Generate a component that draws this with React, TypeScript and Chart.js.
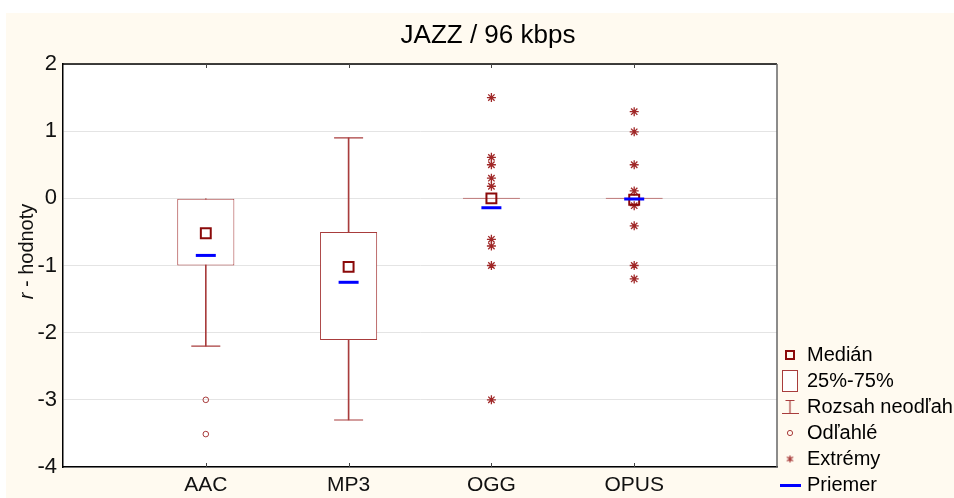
import React, { useEffect, useRef } from 'react';
import { Chart, registerables } from 'chart.js';

Chart.register(...registerables);

const FAMILY = "'Liberation Sans Narrow', 'Liberation Sans', Arial, sans-serif";

// ---- data ----
const chartTitle = 'JAZZ / 96 kbps';
const categories = ['AAC', 'MP3', 'OGG', 'OPUS'];
const yTickValues = [-4, -3, -2, -1, 0, 1, 2];
const q1 = [-1.0, -2.11, 0, 0];
const q3 = [0, -0.5, 0, 0];
const medians = [-0.52, -1.02, 0, -0.02];
const means = [-0.85, -1.25, -0.14, -0.01];
const whiskerLow = [-2.2, -3.3, 0, 0];
const whiskerHigh = [0, 0.9, 0, 0];
const outliers: number[][] = [[-3.0, -3.51], [], [], []];
const extremes: number[][] = [
  [],
  [],
  [1.5, 0.61, 0.5, 0.3, 0.18, -0.61, -0.71, -1.0, -3.0],
  [1.29, 0.99, 0.5, 0.11, -0.11, -0.41, -1.0, -1.2],
];
const legendLabels = ['Medián', '25%-75%', 'Rozsah neodľah.', 'Odľahlé', 'Extrémy', 'Priemer'];
const yTitleItalic = 'r';
const yTitleRest = ' - hodnoty';

// ---- styles ----
const RED = '#A83C3C';
const DARKRED = '#8B0A0A';
const STAR = '#A02828';
const BLUE = '#0000FF';

function marker(w: number, h: number, draw: (c: CanvasRenderingContext2D) => void) {
  const c = document.createElement('canvas');
  c.width = w;
  c.height = h;
  const ctx = c.getContext('2d')!;
  draw(ctx);
  return c;
}

export default function App() {
  const ref = useRef<HTMLCanvasElement>(null);

  useEffect(() => {
    const canvas = ref.current!;
    const axisLabels = ['', ...categories, ''];
    const pad = (arr: any[]) => [null, ...arr, null];

    const whiskerData = pad(categories.map((_, i) => (whiskerHigh[i] > whiskerLow[i] ? [whiskerLow[i], whiskerHigh[i]] : null)));
    const boxData = pad(categories.map((_, i) => [q1[i], q3[i]]));
    const capData: { x: string; y: number }[] = [];
    categories.forEach((c, i) => {
      if (whiskerLow[i] < q1[i]) capData.push({ x: c, y: whiskerLow[i] });
      if (whiskerHigh[i] > q3[i]) capData.push({ x: c, y: whiskerHigh[i] });
    });
    const medianData = categories.map((c, i) => ({ x: c, y: medians[i] }));
    const meanData = categories.map((c, i) => ({ x: c, y: means[i] }));
    const outlierData = categories.flatMap((c, i) => outliers[i].map((v) => ({ x: c, y: v })));
    const extremeData = categories.flatMap((c, i) => extremes[i].map((v) => ({ x: c, y: v })));

    // legend markers
    const mMedian = marker(10, 10, (c) => {
      c.strokeStyle = DARKRED;
      c.lineWidth = 2;
      c.strokeRect(1, 1, 8, 8);
    });
    const mBox = marker(16, 22, (c) => {
      c.fillStyle = '#fff';
      c.fillRect(0, 0, 16, 22);
      c.strokeStyle = RED;
      c.lineWidth = 1;
      c.strokeRect(0.5, 0.5, 15, 21);
    });
    const mWhisker = marker(17, 14, (c) => {
      c.strokeStyle = RED;
      c.lineWidth = 1.2;
      c.beginPath();
      c.moveTo(4, 0.5);
      c.lineTo(13, 0.5);
      c.moveTo(8.5, 0.5);
      c.lineTo(8.5, 13.5);
      c.moveTo(0, 13.5);
      c.lineTo(17, 13.5);
      c.stroke();
    });
    const mCircle = marker(8, 8, (c) => {
      c.strokeStyle = RED;
      c.lineWidth = 1;
      c.beginPath();
      c.arc(4, 4, 2.6, 0, Math.PI * 2);
      c.stroke();
    });
    const mStar = marker(9, 9, (c) => {
      c.strokeStyle = STAR;
      c.lineWidth = 1.2;
      c.beginPath();
      c.moveTo(4.5, 1);
      c.lineTo(4.5, 8);
      c.moveTo(1.5, 2.5);
      c.lineTo(7.5, 6.5);
      c.moveTo(7.5, 2.5);
      c.lineTo(1.5, 6.5);
      c.stroke();
    });
    const mMean = marker(21, 3, (c) => {
      c.fillStyle = BLUE;
      c.fillRect(0, 0, 21, 3);
    });
    const legendMarkers = [mMedian, mBox, mWhisker, mCircle, mStar, mMean];

    // legend sizing so plot area right edge lands where the reference has it
    const LEG_FONT = 20;
    const LEG_PAD = 6;
    const LEG_BOX = 14;
    const mctx = document.createElement('canvas').getContext('2d')!;
    mctx.font = `${LEG_FONT}px ${FAMILY}`;
    const maxText = Math.max(...legendLabels.map((t) => mctx.measureText(t).width));
    const legendNeed = LEG_PAD + LEG_BOX + LEG_FONT / 2 + maxText + 10;
    const legendSpace = 948 - 771;
    const padRight = Math.max(0, legendSpace - legendNeed);

    const framePlugin = {
      id: 'frame',
      beforeDraw(chart: any) {
        const { ctx, chartArea: a } = chart;
        ctx.save();
        ctx.fillStyle = '#ffffff';
        ctx.fillRect(a.left, a.top, a.right - a.left, a.bottom - a.top);
        ctx.restore();
      },
      afterDraw(chart: any) {
        const { ctx, chartArea: a, scales } = chart;
        const xs = scales.x;
        ctx.save();
        ctx.lineWidth = 1.5;
        ctx.strokeStyle = '#000';
        ctx.beginPath();
        ctx.moveTo(a.left, a.top);
        ctx.lineTo(a.right, a.top);
        ctx.stroke();
        ctx.strokeStyle = '#666';
        ctx.beginPath();
        ctx.moveTo(a.right, a.top);
        ctx.lineTo(a.right, a.bottom);
        ctx.stroke();
        // inner category ticks
        ctx.strokeStyle = '#444';
        ctx.lineWidth = 1;
        ctx.beginPath();
        categories.forEach((c) => {
          const px = Math.round(xs.getPixelForValue(axisLabels.indexOf(c))) + 0.5;
          ctx.moveTo(px, a.bottom);
          ctx.lineTo(px, a.bottom - 4);
          ctx.moveTo(px, a.top);
          ctx.lineTo(px, a.top + 4);
        });
        ctx.stroke();
        // y axis title with italic r
        const fI = `italic 20px ${FAMILY}`;
        const fN = `20px ${FAMILY}`;
        ctx.translate(a.left - 36, (a.top + a.bottom) / 2 - 14);
        ctx.rotate(-Math.PI / 2);
        ctx.font = fI;
        const w1 = ctx.measureText(yTitleItalic).width;
        ctx.font = fN;
        const w2 = ctx.measureText(yTitleRest).width;
        const x0 = -(w1 + w2) / 2;
        ctx.fillStyle = '#111';
        ctx.textBaseline = 'middle';
        ctx.textAlign = 'left';
        ctx.font = fI;
        ctx.fillText(yTitleItalic, x0, 0);
        ctx.font = fN;
        ctx.fillText(yTitleRest, x0 + w1, 0);
        ctx.restore();
      },
    };

    const chart = new Chart(canvas, {
      type: 'bar',
      data: {
        labels: axisLabels,
        datasets: [
          {
            type: 'bar',
            label: 'whisker',
            data: whiskerData as any,
            backgroundColor: RED,
            borderWidth: 0,
            barThickness: 1,
            grouped: false,
            order: 10,
          } as any,
          {
            type: 'bar',
            label: 'box',
            data: boxData as any,
            backgroundColor: '#ffffff',
            borderColor: RED,
            borderWidth: 1,
            borderSkipped: false,
            barPercentage: 0.4,
            categoryPercentage: 1,
            minBarLength: 1,
            grouped: false,
            order: 9,
          } as any,
          {
            type: 'line',
            label: 'caps',
            data: capData as any,
            showLine: false,
            pointStyle: 'line',
            pointRadius: 14.5,
            pointBorderColor: RED,
            pointBorderWidth: 1.2,
            order: 8,
          } as any,
          {
            type: 'line',
            label: 'outliers',
            data: outlierData as any,
            showLine: false,
            pointStyle: 'circle',
            pointRadius: 2.8,
            pointBorderColor: RED,
            pointBackgroundColor: 'rgba(255,255,255,0)',
            pointBorderWidth: 1,
            order: 4,
          } as any,
          {
            type: 'line',
            label: 'extremes',
            data: extremeData as any,
            showLine: false,
            pointStyle: 'star',
            pointRadius: 4.5,
            pointBorderColor: STAR,
            pointBorderWidth: 1.3,
            order: 3,
          } as any,
          {
            type: 'line',
            label: 'median',
            data: medianData as any,
            showLine: false,
            pointStyle: 'rect',
            pointRadius: 7,
            pointBorderColor: DARKRED,
            pointBackgroundColor: 'rgba(255,255,255,0)',
            pointBorderWidth: 2,
            order: 2,
          } as any,
          {
            type: 'line',
            label: 'mean',
            data: meanData as any,
            showLine: false,
            pointStyle: 'line',
            pointRadius: 10,
            pointBorderColor: BLUE,
            pointBorderWidth: 3,
            order: 1,
          } as any,
        ],
      },
      options: {
        responsive: false,
        animation: false,
        events: [],
        layout: { padding: { left: 16, right: padRight, top: 0, bottom: -3 } },
        scales: {
          x: {
            type: 'category',
            offset: false,
            grid: { display: false, drawTicks: false },
            border: { display: true, color: '#000', width: 1.5 },
            ticks: {
              autoSkip: false,
              maxRotation: 0,
              padding: 6,
              color: '#111',
              font: { family: FAMILY, size: 21 },
            },
            afterFit: (s: any) => {
              s.height = 34;
            },
          },
          y: {
            type: 'linear',
            min: yTickValues[0],
            max: yTickValues[yTickValues.length - 1],
            afterBuildTicks: (s: any) => {
              s.ticks = yTickValues.map((v) => ({ value: v }));
            },
            grid: { color: '#E4E4E4', lineWidth: 1, drawTicks: false },
            border: { display: true, color: '#000', width: 1.5 },
            ticks: {
              padding: 6,
              color: '#111',
              font: { family: FAMILY, size: 22 },
            },
            afterFit: (s: any) => {
              s.width = 41;
            },
          },
        },
        plugins: {
          title: {
            display: true,
            text: chartTitle,
            color: '#000',
            font: { family: FAMILY, size: 26, weight: 'normal' },
            padding: { top: 7, bottom: 12.8 },
          },
          legend: {
            display: true,
            position: 'right',
            align: 'end',
            maxWidth: legendSpace,
            onClick: () => {},
            labels: {
              usePointStyle: true,
              boxWidth: LEG_BOX,
              padding: LEG_PAD,
              color: '#000',
              font: { family: FAMILY, size: LEG_FONT },
              generateLabels: () =>
                legendLabels.map((t, i) => ({
                  text: t,
                  pointStyle: legendMarkers[i] as any,
                  fillStyle: 'rgba(0,0,0,0)',
                  strokeStyle: 'rgba(0,0,0,0)',
                  lineWidth: 0,
                  hidden: false,
                  fontColor: '#000',
                })) as any,
            },
          },
          tooltip: { enabled: false },
        },
      } as any,
      plugins: [framePlugin],
    });

    return () => chart.destroy();
  }, []);

  return (
    <div style={{ position: 'fixed', left: 0, top: 0, width: 954, height: 498, background: '#ffffff', overflow: 'hidden' }}>
      <div style={{ position: 'absolute', left: 6, top: 13, width: 948, height: 485, background: '#FFFAF0' }}>
        <canvas ref={ref} width={948} height={485} style={{ display: 'block' }} />
      </div>
    </div>
  );
}
